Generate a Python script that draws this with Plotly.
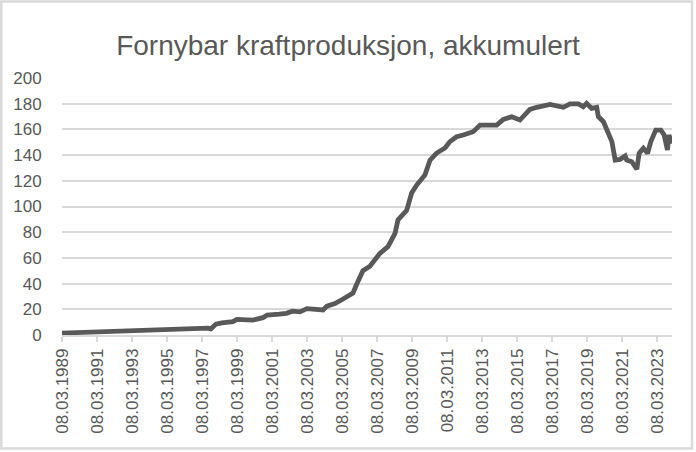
import plotly.graph_objects as go

dates = [
    "1989-03-08", "1991-05-08", "1993-01-26", "1994-10-12", "1996-07-01", "1997-07-08",
    "1997-09-12", "1997-12-24", "1998-04-27", "1998-12-13", "1999-03-08", "2000-02-03",
    "2000-09-01", "2000-11-24", "2001-08-08", "2002-01-01", "2002-05-08", "2002-10-12",
    "2003-03-08", "2004-02-07", "2004-04-27", "2004-10-12", "2005-03-30", "2005-10-23",
    "2006-01-15", "2006-05-19", "2006-10-12", "2007-05-08", "2007-10-23", "2008-03-18",
    "2008-05-19", "2008-11-17", "2009-02-28", "2009-06-13", "2009-12-02", "2010-03-18",
    "2010-08-04", "2011-01-26", "2011-05-08", "2011-09-24", "2012-02-10", "2012-09-05",
    "2013-01-26", "2014-01-08", "2014-05-27", "2014-11-17", "2015-05-08", "2015-09-27",
    "2015-12-02", "2016-04-23", "2017-01-26", "2017-10-30", "2018-03-18", "2018-09-09",
    "2018-12-20", "2019-02-28", "2019-06-13", "2019-09-27", "2019-10-30", "2020-02-14",
    "2020-05-30", "2020-08-08", "2020-10-16", "2021-01-26", "2021-05-12", "2021-06-13",
    "2021-09-27", "2022-01-11", "2022-02-28", "2022-05-27", "2022-08-23", "2022-10-30",
    "2023-02-10", "2023-05-27", "2023-08-04", "2023-10-12", "2023-11-13", "2024-01-15",
]
values = [
    1.5, 2.6, 3.7, 4.7, 5.2, 5.4,
    4.8, 8.5, 9.5, 10.4, 12.2, 11.6,
    13.5, 15.5, 16.2, 16.9, 18.5, 18.0,
    20.5, 19.5, 22.5, 24.5, 28.0, 32.7,
    40.0, 50.0, 53.5, 63.5, 68.7, 79.0,
    89.5, 97.0, 110.5, 116.7, 124.5, 136.0,
    141.6, 145.5, 150.5, 154.3, 155.6, 158.2,
    163.4, 163.4, 167.8, 169.9, 167.3, 173.8,
    175.6, 177.2, 179.5, 177.2, 179.8, 179.8,
    177.7, 180.3, 176.4, 177.2, 170.0, 166.0,
    155.6, 150.5, 136.2, 136.7, 139.3, 136.2,
    134.9, 129.0, 141.4, 145.3, 141.4, 150.5,
    159.5, 159.5, 155.6, 144.0, 155.6, 149.0,
]
tick_dates = [f"{y}-03-08" for y in range(1989, 2024, 2)]
tick_labels = [f"08.03.{y}" for y in range(1989, 2024, 2)]
y_ticks = [0, 20, 40, 60, 80, 100, 120, 140, 160, 180, 200]

TEXT = "#595959"
GRID = "#d9d9d9"
FONT = "Liberation Sans, Arial, sans-serif"

fig = go.Figure(go.Scatter(
    x=dates, y=values, mode="lines",
    line=dict(color="#595959", width=4.8),
    hoverinfo="x+y",
))

fig.update_layout(
    width=696, height=452, autosize=False,
    margin=dict(l=62, r=24, t=78, b=117),
    paper_bgcolor="white", plot_bgcolor="white",
    showlegend=False,
    title=dict(text="Fornybar kraftproduksjon, akkumulert", x=0.5, xanchor="center",
               y=1 - 45 / 452, yanchor="middle", yref="container",
               font=dict(family=FONT, size=28, color=TEXT)),
    font=dict(family=FONT, color=TEXT),
    xaxis=dict(
        type="date", range=["1989-03-08", "2024-01-15"],
        tickmode="array", tickvals=tick_dates, ticktext=tick_labels,
        tickangle=-90, tickfont=dict(family=FONT, size=17, color=TEXT),
        showgrid=False, showline=True, linecolor=GRID, linewidth=1.5,
        ticks="outside", ticklen=5, tickcolor=GRID, tickwidth=1.5,
        zeroline=False, fixedrange=True,
    ),
    yaxis=dict(
        range=[0, 200], tickmode="array", tickvals=y_ticks,
        tickfont=dict(family=FONT, size=17, color=TEXT),
        showgrid=True, gridcolor=GRID, gridwidth=1.5,
        showline=False, zeroline=False,
        ticks="outside", ticklen=16, tickcolor="rgba(0,0,0,0)",
        fixedrange=True,
    ),
    shapes=[dict(type="rect", xref="paper", yref="paper",
                 x0=-0.0995, x1=1.0328, y0=-0.4416, y1=1.2977,
                 line=dict(color=GRID, width=2.5), fillcolor="rgba(0,0,0,0)",
                 layer="below")],
)

fig.write_html(
    "out.html",
    config={"displayModeBar": False},
    post_script="document.body.style.margin='0';document.body.style.overflow='hidden';",
)
